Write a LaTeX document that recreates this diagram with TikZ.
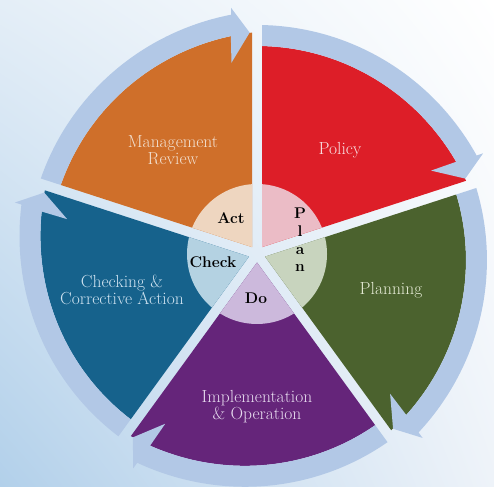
\documentclass[tikz,border=0pt]{standalone}
\usetikzlibrary{calc,shadings}
\definecolor{bgA}{RGB}{178,208,234}
\definecolor{bgB}{RGB}{228,238,247}
\definecolor{bgC}{RGB}{238,243,249}
\definecolor{cRed}{RGB}{221,30,40}
\definecolor{cOrange}{RGB}{207,111,42}
\definecolor{cGreen}{RGB}{75,98,46}
\definecolor{cPurple}{RGB}{101,37,122}
\definecolor{cBlue}{RGB}{22,98,140}
\definecolor{tRed}{RGB}{235,188,198}
\definecolor{tOrange}{RGB}{238,214,192}
\definecolor{tGreen}{RGB}{200,212,190}
\definecolor{tPurple}{RGB}{204,185,220}
\definecolor{tBlue}{RGB}{180,210,226}
\definecolor{ringc}{RGB}{178,200,230}
\definecolor{lOrange}{RGB}{242,224,208}
\definecolor{lRed}{RGB}{248,226,228}
\definecolor{lGreen}{RGB}{230,236,214}
\definecolor{lPurple}{RGB}{230,218,238}
\definecolor{lBlue}{RGB}{206,226,240}
\tikzset{
  wlabel/.style={align=center, font=\fontsize{17.5}{17}\selectfont, inner sep=0pt},
  clabel/.style={align=center, font=\fontsize{15.5}{17.7}\selectfont\bfseries, text=black, inner sep=0pt},
  ringfill/.style={fill=ringc}
}
\begin{document}
\begin{tikzpicture}[x=1pt,y=1pt]
\useasboundingbox (0,0) rectangle (494,486);
\shade[lower left=bgA, upper left=bgB, lower right=bgC, upper right=white] (0,0) rectangle (494,486);
\begin{scope}[shift={(257,232)}]
\foreach \s/\wc/\tc in {90/cRed/tRed, 18/cGreen/tGreen, -54/cPurple/tPurple, -126/cBlue/tBlue, 162/cOrange/tOrange}{
  \pgfmathsetmacro\e{\s-72}
  \pgfmathsetmacro\m{\s-36}
  \begin{scope}
    \clip (\m:8.5) -- +(\s:420) -- +(\e:420) -- cycle;
    % wedge with spiral outer edge
    \fill[\wc] (0,0) -- plot[domain=0:1, samples=60] ({\s+3-\x*78}:{208+14*((\x*78-3)/72)^2}) -- cycle;
    % inner tint
    \fill[\tc] (0,0) circle (70);
    % arrow
    \fill[ringfill] plot[domain=0:1, samples=60] ({\s+3-\x*68.2}:{208+14*((\x*68.2-3)/72)^2})
      -- (\e+7.6:193) -- (\e+1.9:221.5) -- (\e+6:247.5)
      -- plot[domain=0:1, samples=60] ({\e+6.15+\x*68.85}:{229+14*((72-6.15-\x*68.85)/72)^2})
      -- cycle;
  \end{scope}
}
\end{scope}
\node[wlabel, text=lOrange] (mr) at (173,336) {Management\\Review};
\node[wlabel, text=lRed] (pol) at (340,336) {Policy};
\node[wlabel, text=lGreen] (pln) at (391,196) {Planning};
\node[wlabel, text=lPurple] (imp) at (257,79) {Implementation\\\& Operation};
\node[wlabel, text=lBlue] (chk) at (122,196) {Checking \&\\Corrective Action};
\node[clabel] (act) at (231,268) {Act};
\node[clabel] (check) at (213,224) {Check};
\node[clabel] (do) at (256,188) {Do};
\node[clabel] (plan) at (300,246) {P\\l\\a\\n};
\end{tikzpicture}
\end{document}
